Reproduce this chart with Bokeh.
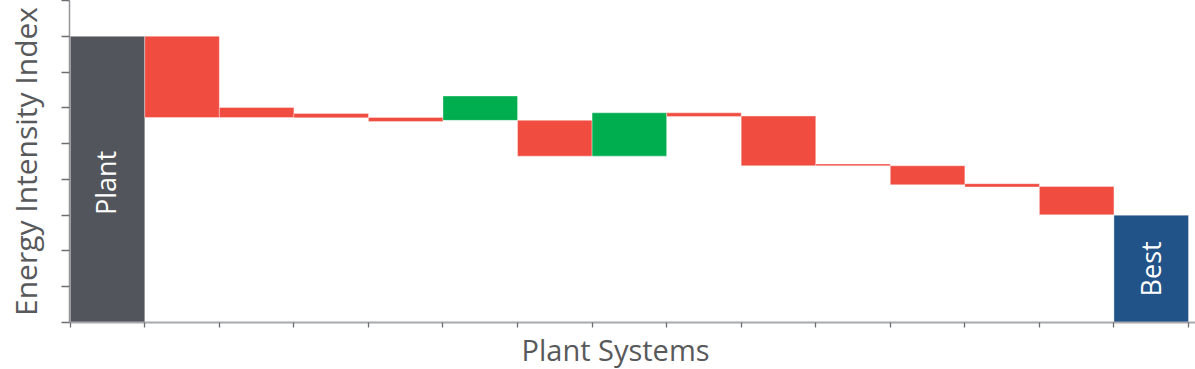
from math import pi
from bokeh.plotting import figure
from bokeh.models import Range1d, FixedTicker, Label, ColumnDataSource, Title
from bokeh.embed import file_html
from bokeh.resources import INLINE

# ---- data (Energy Intensity Index units) ----
stages = ["Plant", "System 1", "System 2", "System 3", "System 4", "System 5",
          "System 6", "System 7", "System 8", "System 9", "System 10",
          "System 11", "System 12", "System 13", "Best"]
bottoms = [0.0, 5.73, 5.73, 5.72, 5.62, 5.65, 4.65, 4.65, 5.76, 4.38, 4.38, 3.85, 3.79, 3.01, 0.0]
tops    = [8.0, 8.00, 6.01, 5.84, 5.73, 6.33, 5.65, 5.86, 5.86, 5.77, 4.43, 4.38, 3.88, 3.80, 3.0]
kinds   = ["base", "loss", "loss", "loss", "loss", "gain", "loss", "gain", "loss",
           "loss", "loss", "loss", "loss", "loss", "best"]
y_ticks = [0, 1, 2, 3, 4, 5, 6, 7, 8, 9]

palette = {"base": "#52555C", "loss": "#F04C40", "gain": "#00AD4F", "best": "#215389"}

n = len(stages)
x_ticks = list(range(n + 1))
src = ColumnDataSource(dict(
    x=[i + 0.5 for i in range(n)],
    bottom=bottoms,
    top=tops,
    color=[palette[k] for k in kinds],
))

W, H = 1195, 369
p = figure(width=W, height=H, output_backend="svg", toolbar_location=None,
           x_range=Range1d(-0.01, 15.094), y_range=Range1d(0, 9.0),
           min_border_left=69, min_border_right=0, min_border_top=0, min_border_bottom=47)
p.outline_line_color = None
p.grid.grid_line_color = None
p.background_fill_color = "white"
p.border_fill_color = "white"

p.vbar(x="x", width=1.0, bottom="bottom", top="top", source=src,
       fill_color="color", line_color="white", line_alpha=0.35, line_width=1)

# axes (ticks only, no tick labels)
p.xaxis.ticker = FixedTicker(ticks=x_ticks)
p.yaxis.ticker = FixedTicker(ticks=y_ticks)
p.xaxis.major_label_overrides = {t: "" for t in x_ticks}
p.yaxis.major_label_overrides = {t: "" for t in y_ticks}
for ax in (p.xaxis, p.yaxis):
    ax.major_label_text_font_size = "0px"
    ax.minor_tick_line_color = None
    ax.major_tick_in = 0
    ax.major_tick_line_color = "#6D6E71"
    ax.major_tick_line_width = 1.3
p.xaxis.major_tick_out = 5
p.xaxis.major_label_standoff = 2
p.yaxis.major_tick_out = 8
p.xaxis.axis_line_color = "#A7A9AC"
p.xaxis.axis_line_width = 2.2
p.yaxis.axis_line_color = "#939598"
p.yaxis.axis_line_width = 1.5

font = "Open Sans"
p.yaxis.axis_label = "Energy Intensity Index"
p.yaxis.axis_label_text_font = font
p.yaxis.axis_label_text_font_size = "30px"
p.yaxis.axis_label_text_font_style = "normal"
p.yaxis.axis_label_text_color = "#58595B"
p.yaxis.axis_label_standoff = 16

p.add_layout(Title(text="Plant Systems", align="left", offset=452,
                   text_font=font, text_font_size="29px", text_font_style="normal",
                   text_color="#58595B", standoff=0), "below")

# bar labels
p.add_layout(Label(x=0.5, y=3.9, text=stages[0], angle=pi / 2, text_color="white",
                   text_font=font, text_font_size="27px", text_align="center",
                   text_baseline="alphabetic", x_offset=-2))
p.add_layout(Label(x=n - 0.5, y=1.5, text=stages[-1], angle=pi / 2, text_color="white",
                   text_font=font, text_font_size="27px", text_align="center",
                   text_baseline="alphabetic", x_offset=-1))

open("out.html", "w").write(file_html(p, INLINE))
